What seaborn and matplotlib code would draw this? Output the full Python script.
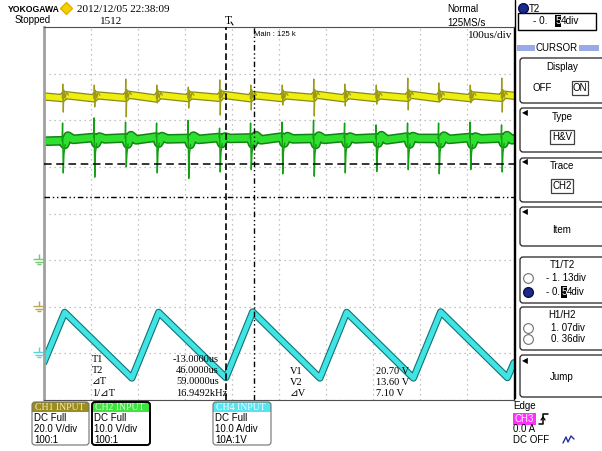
import matplotlib
matplotlib.use("Agg")
import matplotlib.pyplot as plt
from matplotlib.patches import FancyBboxPatch, Rectangle
from matplotlib.path import Path
import numpy as np
import pandas as pd
import seaborn as sns

# ---- scope settings ----
t_left, t_right = -400, 600            # us on screen, 100 us/div, trigger 1 div left of centre
ch1_scale, ch1_offset = 20.0, -2       # V/div, position in div
ch2_scale, ch2_offset = 10.0, -1       # V/div
ch4_scale, ch4_offset = 10.0, -3       # A/div

# switching instants (us) where CH1 / CH2 spike
switch_t = [-360, -293, -226, -160, -93, -26, 40, 107, 174, 240, 307, 374, 440, 507, 574]

# CH1 (yellow), volts
ch1_hi = [95.5, 95.1, 97.7, 95.1, 94.2, 97.3, 95.1, 95.1, 97.7, 95.5, 95.1, 98.1, 96.0, 95.1, 98.1]
ch1_lo = [83.5, 85.7, 81.4, 87.4, 85.2, 82.2, 84.4, 86.5, 81.8, 86.1, 86.9, 84.4, 87.8, 87.4, 83.5]
ch1_before = [89.5, 89.4, 89.6, 89.3, 89.5, 89.6, 89.4, 89.5, 89.6, 89.4, 89.5, 89.6, 89.4, 89.5, 89.6]
ch1_after = [90.8, 90.7, 91.0, 90.8, 90.7, 91.0, 90.8, 90.7, 91.0, 90.8, 90.7, 91.0, 90.8, 90.7, 91.0]
ch1_edge_v = [90.2, 90.5]
ch1_ring_dt = [2.5, 5, 8, 12]
ch1_ring_dv = [2.2, -1.2, 1.2, 0.0]

# CH2 (green), volts
ch2_hi = [29.4, 30.5, 29.6, 29.4, 30.0, 28.3, 29.4, 29.6, 30.0, 29.4, 29.0, 29.4, 29.4, 29.6, 29.0]
ch2_lo = [18.7, 17.8, 20.0, 18.7, 17.5, 18.9, 19.4, 18.5, 18.0, 18.7, 19.0, 19.4, 18.5, 19.4, 18.9]
ch2_before = [25.6, 26.3, 26.2, 26.4, 26.1, 26.3, 26.2, 26.4, 26.1, 26.3, 26.2, 26.4, 26.1, 26.3, 26.2]
ch2_dip = [24.8, 25.0, 24.9, 25.1, 24.8, 25.0, 24.9, 25.1, 24.8, 25.0, 25.1, 24.9, 25.0, 24.8, 25.0]
ch2_hump = [26.6, 26.4, 26.7, 26.5, 26.6, 26.4, 26.7, 26.5, 26.6, 26.4, 26.7, 26.5, 26.6, 26.4, 26.7]
ch2_flat = [25.9, 26.0, 25.8, 26.0, 25.9, 26.1, 25.8, 26.0, 25.9, 26.0, 25.8, 26.1, 25.9, 26.0, 25.8]
ch2_edge_v = [25.5, 26.0]

# CH4 (cyan), amps: triangle corners
ch4_t = [-400, -356, -213, -156, -13, 44, 187, 244, 386, 444, 586, 600]
ch4_i = [-1.9, 8.8, -5.3, 8.8, -5.2, 8.9, -5.3, 8.8, -5.3, 8.9, -5.2, -2.0]

# cursors
t1_us, t2_us = -13.0, 46.0
v1_volt, v2_volt = 20.70, 13.60

sns.set_style("white")
SERIF = ['Liberation Serif', 'DejaVu Serif', 'DejaVu Sans']
SANS = ['Liberation Sans', 'DejaVu Sans']
plt.rcParams['font.family'] = SANS

W, H = 602, 451
fig = plt.figure(figsize=(W / 100, H / 100), dpi=100)
bg = fig.add_axes([0, 0, 1, 1], zorder=0)
fg = fig.add_axes([0, 0, 1, 1], zorder=3)
for a in (bg, fg):
    a.set_xlim(0, W)
    a.set_ylim(H, 0)
    a.axis('off')
fg.patch.set_alpha(0)

px0, py0, px1, py1 = 44, 27, 514, 400
ax = fig.add_axes([px0 / W, 1 - py1 / H, (px1 - px0) / W, (py1 - py0) / H], zorder=1)
ax.patch.set_alpha(0)

# ---- build trace tables ----
bt, bv = [t_left], [ch1_edge_v[0]]
for t, b, a in zip(switch_t, ch1_before, ch1_after):
    bt += [t - 1, t + 4]
    bv += [b, a]
bt.append(t_right)
bv.append(ch1_edge_v[1])
ch1_band = pd.DataFrame({'t': bt, 'y': np.array(bv) / ch1_scale + ch1_offset})

rows = []
for k, (t, b, hi, lo, a) in enumerate(zip(switch_t, ch1_before, ch1_hi, ch1_lo, ch1_after)):
    pts = [(t - 1, b), (t, hi), (t + 1, lo)]
    pts += [(t + dt, a + dv) for dt, dv in zip(ch1_ring_dt, ch1_ring_dv)]
    rows += [(k, tt, vv / ch1_scale + ch1_offset) for tt, vv in pts]
ch1_spk = pd.DataFrame(rows, columns=['k', 't', 'y'])

bt, bv = [t_left], [ch2_edge_v[0]]
for t, b, d, hm, f in zip(switch_t, ch2_before, ch2_dip, ch2_hump, ch2_flat):
    bt += [t - 1, t + 4, t + 11, t + 22]
    bv += [b, d, hm, f]
bt.append(t_right)
bv.append(ch2_edge_v[1])
ch2_band = pd.DataFrame({'t': bt, 'y': np.array(bv) / ch2_scale + ch2_offset})

rows = []
for k, (t, b, hi, lo, d) in enumerate(zip(switch_t, ch2_before, ch2_hi, ch2_lo, ch2_dip)):
    pts = [(t - 1.5, b), (t - 0.5, hi), (t + 1, lo), (t + 2.5, d - 2.0), (t + 5, d)]
    rows += [(k, tt, vv / ch2_scale + ch2_offset) for tt, vv in pts]
ch2_spk = pd.DataFrame(rows, columns=['k', 't', 'y'])

ch4 = pd.DataFrame({'t': ch4_t, 'y': np.array(ch4_i) / ch4_scale + ch4_offset})

kw = dict(sort=False, estimator=None, ax=ax, legend=False, solid_joinstyle='round')
sns.lineplot(data=ch1_band, x='t', y='y', color='#8a8a18', linewidth=6.0, **kw)
sns.lineplot(data=ch1_band, x='t', y='y', color='#eeee10', linewidth=4.2, **kw)
sns.lineplot(data=ch1_spk, x='t', y='y', units='k', color='#9a9a18', linewidth=0.9, **kw)

sns.lineplot(data=ch2_band, x='t', y='y', color='#128412', linewidth=7.0, **kw)
sns.lineplot(data=ch2_band, x='t', y='y', color='#30e030', linewidth=4.8, **kw)
sns.lineplot(data=ch2_spk, x='t', y='y', units='k', color='#12a012', linewidth=1.0, **kw)

sns.lineplot(data=ch4, x='t', y='y', color='#137272', linewidth=5.2, **kw)
sns.lineplot(data=ch4, x='t', y='y', color='#40e4e4', linewidth=3.6, **kw)

ax.set_xlim(t_left, t_right)
ax.set_ylim(-4, 4)
ax.set_xticks(np.arange(t_left, t_right + 1, 100))
ax.set_yticks(np.arange(-4, 5, 1))
ax.tick_params(length=0, labelbottom=False, labelleft=False)
ax.set_xlabel('')
ax.set_ylabel('')
ax.grid(True, color='#b0b0b0', linestyle=(0, (1, 3)), linewidth=0.9)
ax.spines['left'].set_color('#a0a0a0')
ax.spines['left'].set_linewidth(2.0)
for s in ('top', 'bottom'):
    ax.spines[s].set_color('#505050')
    ax.spines[s].set_linewidth(0.8)
ax.spines['right'].set_color('black')
ax.spines['right'].set_linewidth(1.0)

# cursors
ax.axvline(t1_us, color='k', ls=(0, (4, 2)), lw=1.2, zorder=6)
ax.axvline(t2_us, color='k', ls=(0, (4, 2, 1, 2, 1, 2)), lw=1.0, zorder=6)
ax.axhline(v1_volt / ch2_scale + ch2_offset, color='k', ls=(0, (5, 3)), lw=1.1, zorder=6)
ax.axhline(v2_volt / ch2_scale + ch2_offset, color='k', ls=(0, (4, 2, 1, 2, 1, 2)), lw=1.0, zorder=6)

# ground markers
gnd = Path([(0, 1), (0, 0.2), (-1, 0.2), (1, 0.2), (-0.6, -0.25), (0.6, -0.25), (-0.25, -0.7), (0.25, -0.7)],
           [Path.MOVETO, Path.LINETO] * 4)
for off, c in ((ch2_offset, '#70cc70'), (ch1_offset, '#b8a858'), (ch4_offset, '#60d0dc')):
    ax.plot([-0.011], [off], marker=gnd, ms=9, mec=c, mew=1.0, mfc='none', ls='none',
            transform=ax.get_yaxis_transform(), clip_on=False)


def txt(x, y, s, size=7, fam=SANS, ha='left', color='black', on=None, **k):
    (on or bg).text(x, y, s, fontsize=size, family=fam, ha=ha, va='center', color=color, **k)


def rbox(x, y, w, h, fc='white', ec='#202020', lw=0.9, r=3, z=1):
    bg.add_patch(FancyBboxPatch((x, y), w, h, boxstyle=f"round,pad=0,rounding_size={r}",
                                fc=fc, ec=ec, lw=lw, zorder=z))


# ---- header ----
txt(8, 9, 'YOKOGAWA', 6.2, ['Liberation Sans Narrow', 'Liberation Sans'], weight='bold')
bg.plot(66, 8, marker='D', ms=6, color='#f5d000', mec='#e0b000')
txt(77, 9, '2012/12/05 22:38:09', 8, SERIF)
txt(15, 20, 'Stopped', 7)
txt(100, 21, '1512', 8, SERIF)
txt(228, 21, 'T', 8.5, SERIF, ha='center')
bg.plot([231, 233], [22, 25], color='k', lw=0.8)
txt(463, 9, 'Normal', 7, ha='center')
txt(466, 23, '125MS/s', 7, ha='center')
txt(512, 35, '100us/div', 8.2, SERIF, ha='right', on=fg)
txt(254, 35, 'Main : 125 k', 5.5, on=fg)

# cursor readouts
for i, (a, b) in enumerate([('T1', '-13.0000us'), ('T2', '46.0000us'),
                            ('⊿T', '59.0000us'), ('1/⊿T', '16.9492kHz')]):
    txt(92, 359 + 11.4 * i, a, 7.5, SERIF, on=fg)
    txt(173 if b.startswith('-') else 176, 359 + 11.4 * i, b, 7.5, SERIF, on=fg)
for i, (a, b) in enumerate([('V1', '20.70 V'), ('V2', '13.60 V'), ('⊿V', '7.10 V')]):
    txt(290, 371 + 11.2 * i, a, 7.5, SERIF, on=fg)
    txt(376, 371 + 11.2 * i, b, 7.5, SERIF, on=fg)

# ---- right panel ----
bg.plot([514.5, 514.5], [0, 398], color='black', lw=1.0)
bg.plot(523, 8, 'o', ms=7, mfc='#1a2a8a', mec='#0a1050')
txt(529, 9, 'T2', 7)
bg.add_patch(Rectangle((518, 13), 78, 17, fc='white', ec='black', lw=1.0))
txt(533, 21, '- 0.', 7.2)
bg.add_patch(Rectangle((555, 15), 6, 12, fc='black', ec='none'))
txt(558, 21, '5', 7.2, ha='center', color='white')
txt(561, 21, '4div', 7.2)

bg.add_patch(Rectangle((517, 45), 18, 6, fc='#9aaae8', ec='none'))
bg.add_patch(Rectangle((579, 45), 20, 6, fc='#9aaae8', ec='none'))
txt(557, 48, 'CURSOR', 7, ha='center')

for top, bot in [(58, 103), (108, 152), (158, 202), (207, 246), (257, 303), (307, 350), (355, 397)]:
    rbox(520, top, 90, bot - top)

txt(562, 67, 'Display', 7, ha='center')
txt(542, 88, 'OFF', 7, ha='center')
bg.add_patch(Rectangle((572, 81), 16, 14, fc='white', ec='#404040', lw=0.9, zorder=2))
txt(580, 88, 'ON', 7, ha='center', zorder=3)

for y, title, val, wbox in [(117, 'Type', 'H&V', 24), (166, 'Trace', 'CH2', 22)]:
    txt(525, y - 4, '◀', 5.5, ['DejaVu Sans'], ha='center')
    txt(562, y, title, 7, ha='center')
    bg.add_patch(Rectangle((562 - wbox / 2, y + 13), wbox, 14, fc='white', ec='#404040', lw=0.9, zorder=2))
    txt(562, y + 20, val, 7, ha='center', zorder=3)
txt(525, 212, '◀', 5.5, ['DejaVu Sans'], ha='center')
txt(562, 230, 'Item', 7, ha='center')

txt(562, 265, 'T1/T2', 7, ha='center')
bg.plot(528, 278, 'o', ms=7, mfc='white', mec='#707070', mew=0.8)
txt(546, 278, '- 1. 13div', 7)
bg.plot(528, 292, 'o', ms=7, mfc='#1a2a8a', mec='#0a1050')
txt(546, 292, '- 0.', 7)
bg.add_patch(Rectangle((561, 286), 6, 12, fc='black', ec='none', zorder=2))
txt(564, 292, '5', 7, ha='center', color='white', zorder=3)
txt(567, 292, '4div', 7)

txt(562, 315, 'H1/H2', 7, ha='center')
bg.plot(528, 328, 'o', ms=7, mfc='white', mec='#707070', mew=0.8)
txt(551, 328, '1. 07div', 7)
bg.plot(528, 339, 'o', ms=7, mfc='white', mec='#707070', mew=0.8)
txt(551, 339, '0. 36div', 7)

txt(525, 361, '◀', 5.5, ['DejaVu Sans'], ha='center')
txt(562, 377, 'Jump', 7, ha='center')

txt(513, 406, 'Edge', 7)
bg.add_patch(Rectangle((513, 413), 23, 12, fc='#ff30ff', ec='none'))
txt(524.5, 419, 'CH3', 7, ha='center', color='white')
bg.plot([539, 543, 543, 548], [424, 424, 414, 414], color='k', lw=1.1)
bg.plot([541, 543, 545], [420, 417, 420], color='k', lw=0.9)
txt(513, 429, '0.0 A', 7)
txt(513, 440, 'DC OFF', 7)
bg.plot([563, 566, 568, 571, 574], [443, 437, 442, 436, 439], color='#2030a0', lw=1.0)

# ---- channel boxes ----
for x, w, hc, tc, title, lines, ec, lw in [
        (32, 57, '#9c8c1c', '#f4f0c0', 'CH1 INPUT', ['DC Full', '20.0 V/div', '100:1'], '#707070', 0.8),
        (92, 58, '#3ee43e', '#e0ffe0', 'CH2 INPUT', ['DC Full', '10.0 V/div', '100:1'], 'black', 1.4),
        (213, 58, '#55e4f0', 'white', 'CH4 INPUT', ['DC Full', '10.0 A/div', '10A:1V'], '#707070', 0.8)]:
    rbox(x, 402, w, 43, fc='white', ec='none')
    bg.add_patch(FancyBboxPatch((x, 402), w, 10, boxstyle='round,pad=0,rounding_size=2.5',
                                fc=hc, ec='none', zorder=1))
    bg.add_patch(Rectangle((x, 407), w, 5, fc=hc, ec='none', zorder=1))
    rbox(x, 402, w, 43, fc='none', ec=ec, lw=lw, z=2)
    txt(x + 3, 407.5, title, 7, SERIF, color=tc, zorder=3)
    for i, s in enumerate(lines):
        txt(x + 2, 418 + 11 * i, s, 7, zorder=3)

fig.savefig('out.png', dpi=100)
